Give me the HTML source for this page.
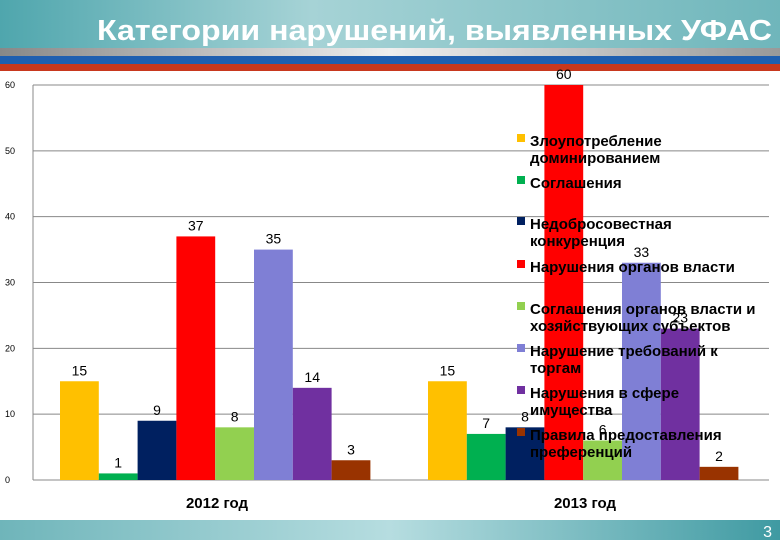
<!DOCTYPE html>
<html><head><meta charset="utf-8"><style>
body{margin:0;width:780px;height:540px;overflow:hidden;background:#fff;font-family:"Liberation Sans",sans-serif}
</style></head><body>
<svg width="780" height="540" xmlns="http://www.w3.org/2000/svg">
<defs>
<linearGradient id="hd" x1="0" x2="1"><stop offset="0" stop-color="#4fa6ad"/><stop offset="0.4" stop-color="#a6d3d6"/><stop offset="1" stop-color="#6fb6bb"/></linearGradient>
<linearGradient id="gr" x1="0" x2="1"><stop offset="0" stop-color="#888"/><stop offset="0.5" stop-color="#eee"/><stop offset="1" stop-color="#999"/></linearGradient>
<linearGradient id="ft" x1="0" x2="1"><stop offset="0" stop-color="#6fb5ba"/><stop offset="0.5" stop-color="#b6dde0"/><stop offset="1" stop-color="#3f9aa2"/></linearGradient>
</defs>
<rect x="0" y="0" width="780" height="48" fill="url(#hd)"/>
<rect x="0" y="48" width="780" height="8" fill="url(#gr)"/>
<rect x="0" y="56" width="780" height="8" fill="#1f5fb0"/>
<rect x="0" y="64" width="780" height="7" fill="#c8381e"/>
<text x="772" y="40" text-anchor="end" font-size="29" font-weight="bold" fill="#fff" textLength="675" lengthAdjust="spacingAndGlyphs">Категории нарушений, выявленных УФАС</text>
<rect x="0" y="520" width="780" height="20" fill="url(#ft)"/>
<text x="772" y="537" text-anchor="end" font-size="16" fill="#fff">3</text>
<g id="plot"></g>
</svg>
<script>
const categories=["2012 год","2013 год"];
const seriesNames=["Злоупотребление доминированием","Соглашения","Недобросовестная конкуренция","Нарушения органов власти","Соглашения органов власти и хозяйствующих субъектов","Нарушение требований к торгам","Нарушения в сфере имущества","Правила предоставления преференций"];
const colors=["#FFC000","#00B050","#002060","#FF0000","#92D050","#7F7FD5","#7030A0","#993300"];
const values2012=[15,1,9,37,8,35,14,3];
const values2013=[15,7,8,60,6,33,23,2];
const yTicks=[0,10,20,30,40,50,60];
const ns="http://www.w3.org/2000/svg";
const g=document.getElementById('plot');
const X0=33,X1=769,Y0=480,Ymax=60,Ytop=85;
const y=v=>Y0-(v/Ymax)*(Y0-Ytop);
const catW=(X1-X0)/categories.length, bw=38.8, off=27;
function el(t,a){const e=document.createElementNS(ns,t);for(const k in a)e.setAttribute(k,a[k]);g.appendChild(e);return e;}
yTicks.forEach(t=>{
 const l=el('line',{x1:X0,x2:X1,y1:y(t),y2:y(t),stroke:'#888','stroke-width':1});
 
 
 const tx=el('text',{x:5,y:y(t)+3,'font-size':9,fill:'#000'});tx.textContent=t;
 
 
});
const ax=el('line',{x1:X0,x2:X0,y1:Ytop,y2:Y0,stroke:'#888'});


[values2012,values2013].forEach((vals,ci)=>{
 vals.forEach((v,i)=>{
  const x=X0+ci*catW+off+i*bw;
  const r=el('rect',{x:x,y:y(v),width:bw,height:Y0-y(v),fill:colors[i]});
  
  
  const t=el('text',{x:x+bw/2,y:y(v)-6,'text-anchor':'middle','font-size':14,fill:'#000'});t.textContent=v;
  
  
 });
 const c=el('text',{x:X0+ci*catW+catW/2,y:508,'text-anchor':'middle','font-size':15,'font-weight':'bold',fill:'#000'});c.textContent=categories[ci];
 
 
});
const lines=[["Злоупотребление","доминированием"],["Соглашения"],["Недобросовестная","конкуренция"],["Нарушения органов власти"],["Соглашения органов власти и","хозяйствующих субъектов"],["Нарушение требований к","торгам"],["Нарушения в сфере","имущества"],["Правила предоставления","преференций"]];
const starts=[142,184,225,268,310,352,394,436];
lines.forEach((ls,i)=>{
 const s=el('rect',{x:517,y:starts[i]-8,width:8,height:8,fill:colors[i]});
 
 
 ls.forEach((l,j)=>{const t=el('text',{x:530,y:starts[i]+4+j*17,'font-size':15,'font-weight':'bold',fill:'#000'});t.textContent=l;
 
 });
});
</script>
</body></html>
